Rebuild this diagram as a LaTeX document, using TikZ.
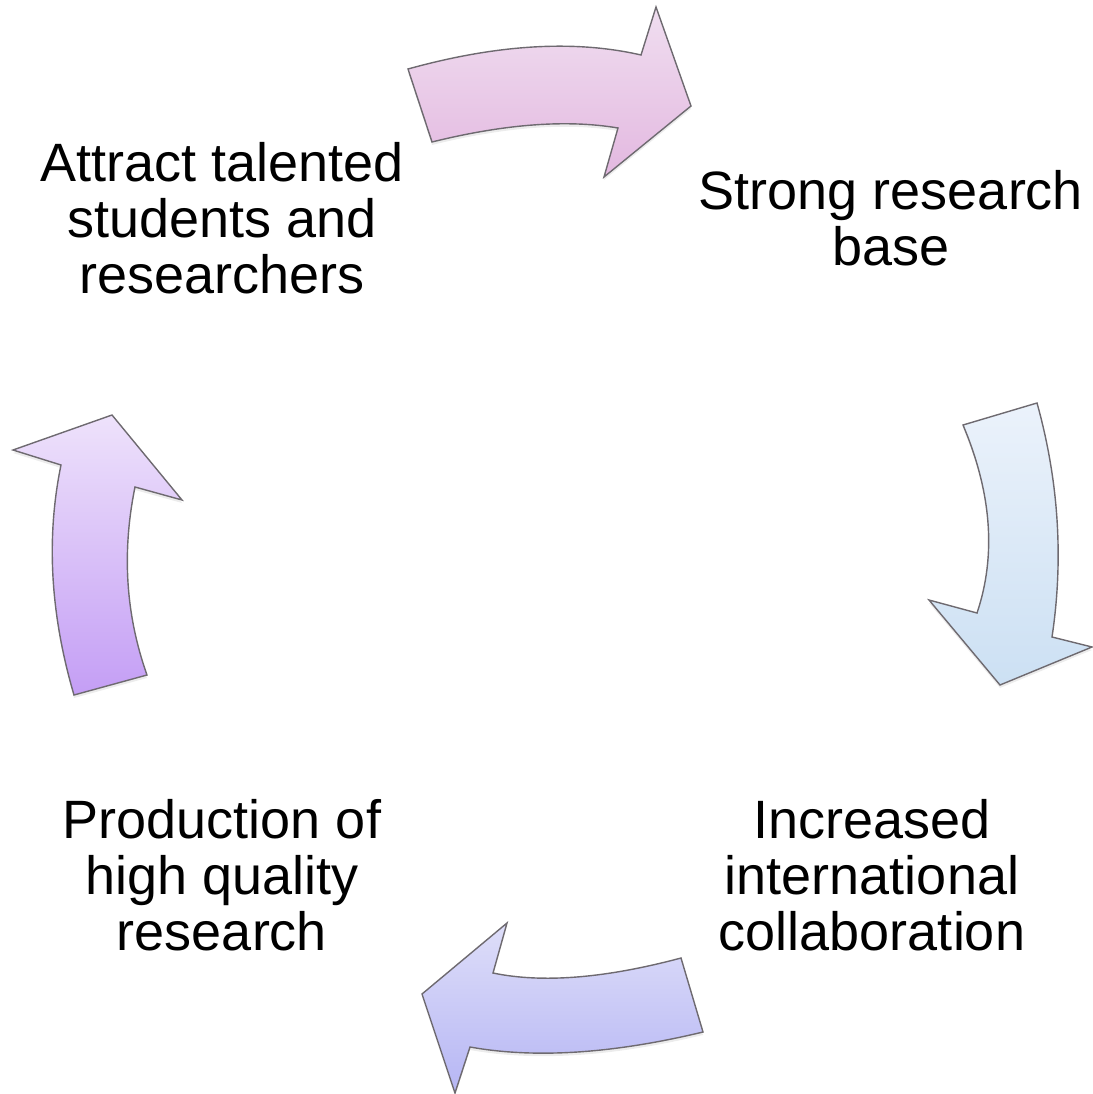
\documentclass[tikz,border=0pt]{standalone}
\usepackage{fontspec}
\setmainfont{Liberation Sans}
\usetikzlibrary{shadows}
\definecolor{pinktop}{HTML}{F0DEF0}
\definecolor{pinkbot}{HTML}{E3B8E0}
\definecolor{bluetop}{HTML}{EBF2FB}
\definecolor{bluebot}{HTML}{CCE0F3}
\definecolor{lavtop}{HTML}{DEDEF9}
\definecolor{lavbot}{HTML}{B6B6F4}
\definecolor{purtop}{HTML}{EEE2FB}
\definecolor{purbot}{HTML}{C49EF5}
\definecolor{rim}{HTML}{6E6A70}
\begin{document}
\begin{tikzpicture}[x=1pt, y=-1pt, thick, stage/.style = {align=center, inner sep=0pt, font=\fontsize{54}{56}\selectfont}, bigarrow/.style = {draw=rim, line width=1.4pt, line join=miter, drop shadow={opacity=0.15, shadow xshift=0pt, shadow yshift=-3pt}}]

		\useasboundingbox (0,0) rectangle (1092,1094);

		\node[stage] (attract) at (222,218) {Attract talented\\students and\\researchers};
		\node[stage] (strong) at (891,218) {Strong research\\base};
		\node[stage] (increased) at (872,875) {Increased\\international\\collaboration};
		\node[stage] (production) at (222,875) {Production of\\high quality\\research};

		% top
		\draw[bigarrow, top color=pinktop, bottom color=pinkbot] (408,69) -- (432,142) .. controls (504.7,124) and (566.7,119.3) .. (618,128) -- (604,177) -- (691,106) -- (656,7) -- (641,55) .. controls (574.7,39.7) and (497,44.3) .. cycle;
		% right
		\draw[bigarrow, top color=bluetop, bottom color=bluebot] (963,425) -- (1037,403) .. controls (1058.7,481) and (1063.7,559) .. (1052,637) -- (1092,647) -- (1000,685) -- (929,600) -- (977,613) .. controls (996.3,555.7) and (991.7,493) .. cycle;
		% bottom
		\draw[bigarrow, top color=lavtop, bottom color=lavbot] (681,958) -- (703,1032) .. controls (612.7,1053.7) and (535,1058.7) .. (470,1047) -- (455,1093) -- (422,994) -- (507,923) -- (493,973) .. controls (542.3,983.3) and (605,978.3) .. cycle;
		% left
		\draw[bigarrow, top color=purtop, bottom color=purbot] (74,695) -- (147,675) .. controls (125.7,615) and (121.7,552.3) .. (135,487) -- (182,500) -- (112,415) -- (13,450) -- (61,465) .. controls (46,537.7) and (50.3,614.3) .. cycle;
	\end{tikzpicture}
\end{document}
